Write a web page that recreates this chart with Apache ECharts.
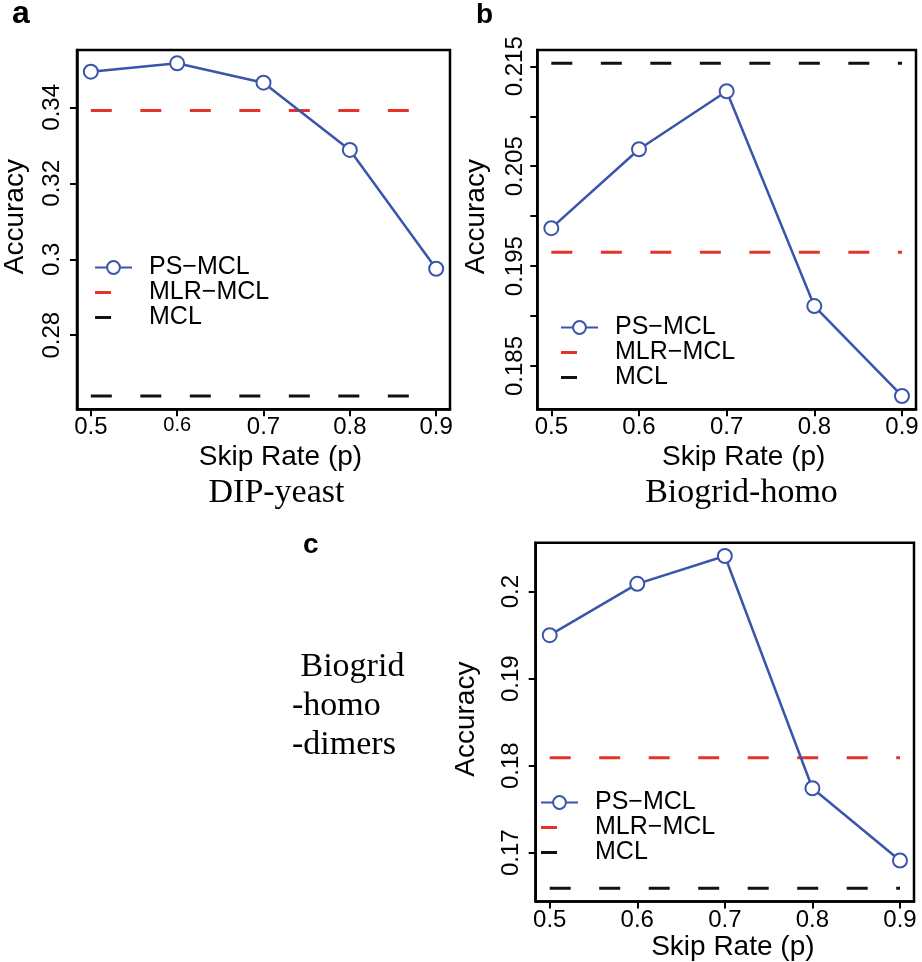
<!DOCTYPE html>
<html><head><meta charset="utf-8">
<script src="https://cdn.jsdelivr.net/npm/echarts@6/dist/echarts.min.js"></script>
<style>html,body{margin:0;padding:0;background:#fff}#chart{width:922px;height:962px}</style>
</head><body><div id="chart"></div>
<script>
// ---------- data ----------
const skipRates = [0.5, 0.6, 0.7, 0.8, 0.9];
const xTickValues = [0.5, 0.6, 0.7, 0.8, 0.9];
const seriesNames = ['PS\u2212MCL', 'MLR\u2212MCL', 'MCL'];
const panelLetters = ['a', 'b', 'c'];
const datasetNames = ['DIP-yeast', 'Biogrid-homo', ' Biogrid\n-homo\n-dimers'];
const xAxisName = 'Skip Rate (p)';
const yAxisName = 'Accuracy';

// a: DIP-yeast
const dipYeastPS = [0.3494, 0.3516, 0.3465, 0.3288, 0.2975];
const dipYeastMLR = 0.3392;
const dipYeastMCL = 0.2640;
const dipYeastTicks = [0.28, 0.30, 0.32, 0.34];
const dipYeastTickLabels = [0.28, 0.30, 0.32, 0.34];

// b: Biogrid-homo
const homoPS = [0.1988, 0.2067, 0.2125, 0.1910, 0.1820];
const homoMLR = 0.1964;
const homoMCL = 0.2153;
const homoTicks = [0.185, 0.19, 0.195, 0.2, 0.205, 0.21, 0.215];
const homoTickLabels = [0.185, 0.195, 0.205, 0.215];

// c: Biogrid-homo-dimers
const dimersPS = [0.1950, 0.2009, 0.2041, 0.1774, 0.1691];
const dimersMLR = 0.1809;
const dimersMCL = 0.1659;
const dimersTicks = [0.17, 0.18, 0.19, 0.2];
const dimersTickLabels = [0.17, 0.18, 0.19, 0.2];

// ---------- styling / layout ----------
const BLUE = '#3a55aa', RED = '#e6332a', BLACK = '#111111';
const SANS = '"Liberation Sans", Arial, sans-serif';
const SERIF = '"Liberation Serif", "Times New Roman", serif';
const DASH = [21, 28.5];
const DASH_ICON = 'path://M0,0H16V3H0ZM37,0';
const TICK_FS = 24, NAME_FS = 28, LEGEND_FS = 25;

function rExtent(vals) {
  const lo = Math.min(...vals), hi = Math.max(...vals), d = (hi - lo) * 0.04;
  return [lo - d, hi + d];
}

const panels = [
  { ps: dipYeastPS, mlr: dipYeastMLR, mcl: dipYeastMCL, ticks: dipYeastTicks, labels: dipYeastTickLabels,
    grid: { left: 70, top: 50, width: 380, height: 359.3 },
    yMargin: 13, yNameGap: 48, yNamePad: 26, xNameGap: 34, xNamePad: 34,
    legend: { left: 94, top: 255 } },
  { ps: homoPS, mlr: homoMLR, mcl: homoMCL, ticks: homoTicks, labels: homoTickLabels,
    grid: { left: 537.3, top: 50, width: 378.7, height: 359.3 },
    yMargin: 10.3, yNameGap: 47, yNamePad: 26, xNameGap: 34, xNamePad: 34,
    legend: { left: 560, top: 315 } },
  { ps: dimersPS, mlr: dimersMLR, mcl: dimersMCL, ticks: dimersTicks, labels: dimersTickLabels,
    grid: { left: 535.7, top: 542.7, width: 378.3, height: 359 },
    yMargin: 12, yNameGap: 55.5, yNamePad: 6, xNameGap: 29.5, xNamePad: 16,
    legend: { left: 540, top: 790 } }
];

const xExt = rExtent(skipRates);
const grids = [], xAxes = [], yAxes = [], series = [], legends = [];

panels.forEach((p, i) => {
  grids.push(Object.assign({ show: true, borderColor: '#000', borderWidth: 2.5, backgroundColor: 'transparent' }, p.grid));
  const yExt = rExtent(p.ps.concat([p.mlr, p.mcl]));
  xAxes.push({
    type: 'value', gridIndex: i, min: xExt[0], max: xExt[1],
    axisLine: { show: true, lineStyle: { color: '#000', width: 2.5 } },
    splitLine: { show: false },
    axisTick: { show: true, length: 7, lineStyle: { color: '#000', width: 2 }, customValues: xTickValues },
    axisLabel: {
      customValues: xTickValues, margin: 6.5, fontSize: TICK_FS, fontFamily: SANS, color: '#000',
      formatter: v => (i === 0 && Math.abs(v - 0.6) < 1e-9) ? '{s|0.6}' : v.toFixed(1),
      rich: { s: { fontSize: 20, fontFamily: SANS, color: '#000' } }
    },
    name: xAxisName, nameLocation: 'middle', nameGap: p.xNameGap,
    nameTextStyle: { fontSize: NAME_FS, fontFamily: SANS, color: '#000', padding: [0, 0, 0, p.xNamePad] }
  });
  yAxes.push({
    type: 'value', gridIndex: i, min: yExt[0], max: yExt[1],
    axisLine: { show: true, lineStyle: { color: '#000', width: 2.5 } },
    splitLine: { show: false },
    axisTick: { show: true, length: 7, lineStyle: { color: '#000', width: 2 }, customValues: p.ticks },
    axisLabel: { customValues: p.labels, rotate: 90, margin: p.yMargin, fontSize: TICK_FS, fontFamily: SANS, color: '#000' },
    name: yAxisName, nameLocation: 'middle', nameGap: p.yNameGap,
    nameTextStyle: { fontSize: NAME_FS, fontFamily: SANS, color: '#000', padding: [0, 0, 0, p.yNamePad] }
  });
  series.push({
    name: seriesNames[0], type: 'line', xAxisIndex: i, yAxisIndex: i, z: 4,
    data: skipRates.map((x, k) => [x, p.ps[k]]),
    symbol: 'emptyCircle', symbolSize: 14, color: BLUE,
    lineStyle: { width: 2.5, color: BLUE }, itemStyle: { color: BLUE, borderColor: BLUE, borderWidth: 2.5 }
  });
  series.push({
    name: seriesNames[1], type: 'line', xAxisIndex: i, yAxisIndex: i, z: 3,
    data: [[skipRates[0], p.mlr], [skipRates[skipRates.length - 1], p.mlr]],
    symbol: 'none', color: RED, lineStyle: { width: 3, color: RED, type: DASH }
  });
  series.push({
    name: seriesNames[2], type: 'line', xAxisIndex: i, yAxisIndex: i, z: 3,
    data: [[skipRates[0], p.mcl], [skipRates[skipRates.length - 1], p.mcl]],
    symbol: 'none', color: BLACK, lineStyle: { width: 3, color: BLACK, type: DASH }
  });
  legends.push({
    left: p.legend.left, top: p.legend.top, orient: 'vertical', padding: 0, itemGap: 0,
    itemWidth: 37, itemHeight: 16, selectedMode: false,
    textStyle: { fontFamily: SANS, fontSize: LEGEND_FS, color: '#000', lineHeight: 23.3, padding: [0, 0, 0, 12] },
    data: [
      { name: seriesNames[0] },
      { name: seriesNames[1], icon: DASH_ICON, itemStyle: { borderWidth: 0 } },
      { name: seriesNames[2], icon: DASH_ICON, itemStyle: { borderWidth: 0 } }
    ]
  });
});

const titles = [
  { text: panelLetters[0], left: 12, top: -2, textStyle: { fontFamily: SANS, fontWeight: 'bold', fontSize: 32, color: '#000' } },
  { text: panelLetters[1], left: 476, top: 1, textStyle: { fontFamily: SANS, fontWeight: 'bold', fontSize: 28, color: '#000' } },
  { text: panelLetters[2], left: 303, top: 531, textStyle: { fontFamily: SANS, fontWeight: 'bold', fontSize: 28, color: '#000' } },
  { text: datasetNames[0], left: 276.5, top: 476.5, textAlign: 'center', textStyle: { fontFamily: SERIF, fontWeight: 'normal', fontSize: 34, color: '#000' } },
  { text: datasetNames[1], left: 741.5, top: 476.5, textAlign: 'center', textStyle: { fontFamily: SERIF, fontWeight: 'normal', fontSize: 34, color: '#000' } },
  { text: datasetNames[2], left: 292, top: 647, textStyle: { fontFamily: SERIF, fontWeight: 'normal', fontSize: 34, lineHeight: 39.2, color: '#000' } }
].map(t => Object.assign({ padding: 0 }, t));

const chart = echarts.init(document.getElementById('chart'), null, { renderer: 'canvas' });
chart.setOption({
  animation: false,
  backgroundColor: '#fff',
  title: titles,
  grid: grids,
  xAxis: xAxes,
  yAxis: yAxes,
  legend: legends,
  series: series
});
</script>
</body></html>
